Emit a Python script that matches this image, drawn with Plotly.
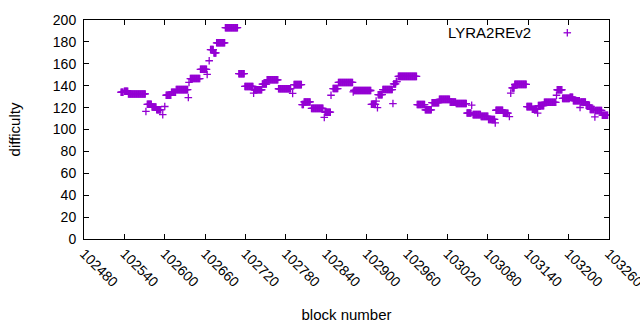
import plotly.graph_objects as go

# Runs of consecutive blocks sharing one difficulty value
seg_start = [102535, 102540, 102546, 102574, 102581, 102588, 102602, 102610, 102617,
             102638, 102653, 102668, 102673, 102677, 102690, 102710, 102719, 102733,
             102745, 102752, 102769, 102792, 102804, 102807, 102818, 102838, 102850,
             102858, 102881, 102907, 102917, 102924, 102940, 102944, 102947, 102975,
             102987, 102997, 103008, 103024, 103033, 103049, 103058, 103070, 103081,
             103092, 103103, 103116, 103120, 103138, 103146, 103155, 103164, 103183,
             103191, 103202, 103207, 103218, 103226, 103232, 103240, 103250]
seg_end = [102538, 102545, 102571, 102580, 102587, 102594, 102609, 102616, 102634,
           102652, 102662, 102672, 102676, 102689, 102708, 102718, 102731, 102744,
           102751, 102768, 102787, 102803, 102806, 102816, 102835, 102846, 102857,
           102879, 102906, 102913, 102923, 102938, 102943, 102945, 102974, 102986,
           102996, 103007, 103023, 103032, 103048, 103055, 103069, 103080, 103090,
           103102, 103110, 103119, 103137, 103145, 103153, 103163, 103181, 103190,
           103201, 103206, 103216, 103225, 103231, 103238, 103249, 103258]
seg_diff = [134, 135, 132.5, 123, 120.5, 118, 131.3, 134, 136.4,
            146.5, 155, 173, 170, 179.2, 193, 151, 139.3, 136.3,
            141.5, 145.4, 137.2, 141, 122.8, 125.2, 119.3, 115.8, 137.4,
            143, 135.6, 123, 131.8, 136.5, 141.6, 143.8, 148.5, 122.8,
            118, 124.5, 127.5, 125, 123.7, 115, 113.6, 112, 109.2,
            117.6, 114.9, 138, 141.2, 120.9, 118.5, 121.8, 124.8, 136.3,
            128.4, 129.5, 126.3, 125.2, 122.2, 118.3, 117.4, 113.1]

# Single outlying blocks
iso_block = [102572, 102597, 102600, 102635, 102636, 102663, 102666, 102732, 102790,
             102837, 102847, 102880, 102914, 102916, 102939, 103056, 103091, 103112,
             103114, 103154, 103182, 103217, 103239]
iso_diff = [116.5, 113.5, 121, 129.2, 143, 150.3, 162.8, 133.2, 132.9,
            111, 131.3, 134.3, 126, 120, 123.7, 122.2, 106, 111.8,
            133.2, 115, 131.3, 120.1, 111.5]

x_ticks = list(range(102480, 103261, 60))
y_ticks = list(range(0, 201, 20))
series_name = "LYRA2REv2"
color = "#9400D3"

pts = []
for s, e, d in zip(seg_start, seg_end, seg_diff):
    for b in range(s, e + 1):
        pts.append((b, d))
pts += list(zip(iso_block, iso_diff))
pts.sort()
xs = [p[0] for p in pts]
ys = [p[1] for p in pts]

fig = go.Figure()
fig.add_trace(go.Scatter(
    x=xs, y=ys, mode="markers", name=series_name, showlegend=False,
    marker=dict(symbol="cross-thin", size=5.4, color=color,
                line=dict(color=color, width=1.3)),
))

font = dict(family="Liberation Sans, Arial, sans-serif", size=14, color="#000000")
axis_common = dict(showline=True, linecolor="black", linewidth=1, mirror="allticks",
                   ticks="inside", ticklen=5, tickcolor="black", tickwidth=1,
                   showgrid=False, zeroline=False, tickfont=font,
                   ticklabeloverflow="allow")

fig.update_layout(
    width=640, height=330,
    margin=dict(l=84, r=31, t=20, b=91),
    paper_bgcolor="white", plot_bgcolor="white",
    font=font,
    xaxis=dict(range=[x_ticks[0], x_ticks[-1]], tickmode="array", tickvals=x_ticks,
               ticktext=[str(v) for v in x_ticks], tickangle=45,
               title=dict(text="block number", font=dict(size=15), standoff=20),
               automargin=False, **axis_common),
    yaxis=dict(range=[0, 200], tickmode="array", tickvals=y_ticks,
               ticktext=[str(v) for v in y_ticks], ticklabelstandoff=4,
               title=dict(text="difficulty", font=dict(size=15), standoff=28),
               automargin=False, **axis_common),
)

# key (gnuplot style: text then sample)
kx, ky = 0.9206, 0.9416
fig.add_annotation(x=0.855, y=ky, xref="paper", yref="paper", text=series_name,
                   showarrow=False, xanchor="right", yanchor="middle",
                   font=dict(size=15, color="#000000"))
dx, dy = 3.75 / 525, 3.75 / 219.3
fig.add_shape(type="line", xref="paper", yref="paper", x0=kx - dx, x1=kx + dx, y0=ky, y1=ky,
              line=dict(color=color, width=1.3))
fig.add_shape(type="line", xref="paper", yref="paper", x0=kx, x1=kx, y0=ky - dy, y1=ky + dy,
              line=dict(color=color, width=1.3))

fig.write_html("out.html", config={"displayModeBar": False},
               post_script="document.body.style.margin='0';")
